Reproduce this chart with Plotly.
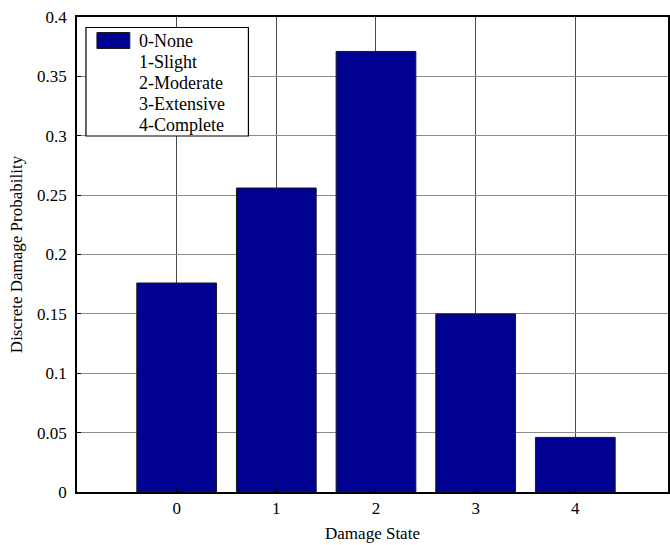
import plotly.graph_objects as go

# Discrete damage-state probabilities
damage_states = [0, 1, 2, 3, 4]
probabilities = [0.176, 0.256, 0.371, 0.150, 0.046]
state_labels = ["0-None", "1-Slight", "2-Moderate", "3-Extensive", "4-Complete"]
y_ticks = [0, 0.05, 0.1, 0.15, 0.2, 0.25, 0.3, 0.35, 0.4]

BAR_COLOR = "#000091"
FONT = "Liberation Serif"

W, H = 670, 545
L, T, B, R = 77, 17, 53, 0
PW, PH = W - L - R, H - T - B


def fx(px):
    return (px - L) / PW


def fy(py):
    return (H - B - py) / PH


fig = go.Figure()
fig.add_trace(go.Bar(
    x=damage_states,
    y=probabilities,
    width=0.8,
    marker=dict(color=BAR_COLOR, line=dict(color="#1a1a1a", width=1)),
    showlegend=False,
    hoverinfo="x+y",
))

# Legend box drawn by hand: wide swatch for the first entry, text rows for all
shapes = [
    dict(type="rect", xref="x domain", yref="y domain",
         x0=fx(86), x1=fx(249), y0=fy(136), y1=fy(27.5),
         line=dict(color="black", width=1.2), fillcolor="white", layer="above"),
    dict(type="rect", xref="x domain", yref="y domain",
         x0=fx(97), x1=fx(130), y0=fy(48.5), y1=fy(32.5),
         line=dict(color="#1a1a1a", width=1), fillcolor=BAR_COLOR, layer="above"),
]
annotations = []
for i, lab in enumerate(state_labels):
    annotations.append(dict(
        xref="x domain", yref="y domain", x=fx(137), y=fy(41 + 21 * i),
        text=lab, showarrow=False, xanchor="left", yanchor="middle",
        font=dict(family=FONT, size=18, color="black"),
    ))

fig.update_layout(
    width=W, height=H,
    margin=dict(l=L, r=R, t=T, b=B, pad=0),
    paper_bgcolor="white", plot_bgcolor="white",
    font=dict(family=FONT, size=17, color="black"),
    shapes=shapes, annotations=annotations,
    bargap=0.2,
)
fig.update_xaxes(
    range=[-1, -1 + PW / 100],
    tickvals=damage_states, ticktext=[str(s) for s in damage_states],
    showgrid=True, gridcolor="#4a4a4a", gridwidth=1,
    showline=True, linecolor="black", linewidth=1.5, mirror=True,
    ticks="inside", ticklen=4, tickcolor="black",
    zeroline=False,
    title=dict(text="Damage State", font=dict(family=FONT, size=17), standoff=10),
    tickfont=dict(family=FONT, size=17),
)
fig.update_yaxes(
    range=[0, 0.4],
    tickvals=y_ticks, ticktext=[f"{v:g}" for v in y_ticks],
    showgrid=True, gridcolor="#8a8a8a", gridwidth=1,
    showline=True, linecolor="black", linewidth=1.5, mirror=True,
    ticks="inside", ticklen=4, tickcolor="black",
    ticklabelstandoff=5,
    zeroline=False,
    title=dict(text="Discrete Damage Probability", font=dict(family=FONT, size=17), standoff=10),
    tickfont=dict(family=FONT, size=17),
)

fig.write_html("out.html")
